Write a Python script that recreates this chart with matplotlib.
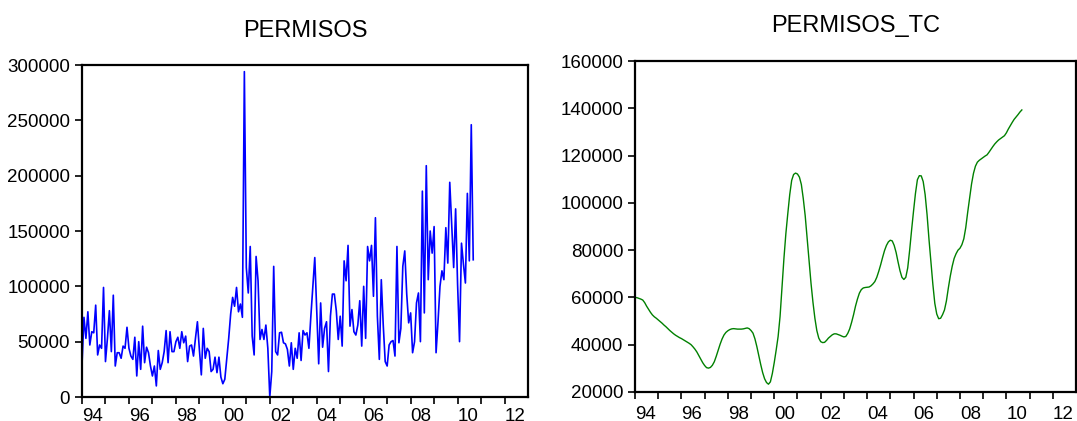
import numpy as np
import matplotlib
matplotlib.use("Agg")
import matplotlib.pyplot as plt

plt.rcParams['font.family'] = ['Liberation Sans', 'DejaVu Sans']

# monthly data, 1994M01 .. 2010M09
start_year = 1994
permisos = [
    29000, 72000, 53000, 77000, 47000, 59000, 58000, 83000, 38000, 47000, 44000, 99000,
    32000, 53000, 78000, 41000, 92000, 28000, 40000, 40000, 35000, 46000, 44000, 63000,
    44000, 37000, 34000, 54000, 19000, 50000, 25000, 64000, 31000, 45000, 40000, 28000,
    19000, 28000, 10000, 42000, 25000, 31000, 41000, 60000, 31000, 59000, 41000, 41000,
    50000, 54000, 44000, 59000, 49000, 55000, 32000, 46000, 47000, 37000, 53000, 68000,
    43000, 20000, 62000, 35000, 44000, 41000, 23000, 25000, 36000, 22000, 36000, 18000,
    12000, 16000, 35000, 53000, 75000, 90000, 82000, 99000, 77000, 84000, 72000, 294000,
    117000, 94000, 136000, 55000, 38000, 127000, 105000, 52000, 61000, 52000, 65000, 44000,
    0, 23000, 118000, 41000, 38000, 58000, 58500, 49000, 48000, 43000, 28000, 49000,
    25000, 44000, 35000, 58000, 33000, 60000, 56000, 58000, 44000, 73000, 99000, 126000,
    78000, 30000, 85000, 45000, 62000, 68000, 23000, 73000, 93000, 93000, 78000, 52000,
    73000, 46000, 123000, 105000, 137000, 64000, 79000, 59000, 56000, 65000, 87000, 46000,
    100000, 53000, 136000, 123000, 137000, 91000, 162000, 73000, 34000, 106000, 65000, 32000,
    28000, 47000, 50000, 51000, 37000, 136000, 49000, 62000, 118000, 132000, 93000, 67000,
    76000, 40000, 50000, 85000, 94000, 50000, 186000, 76000, 209000, 106000, 150000, 130000,
    154000, 40000, 68000, 100000, 114000, 106000, 153000, 121000, 194000, 156000, 117000, 170000,
    102000, 50000, 139000, 120000, 103000, 184000, 123000, 246000, 124000,
]
permisos_tc = [
    60000, 59900, 59600, 59300, 58900, 57800, 56300, 55000, 53700, 52600, 51800, 51200,
    50500, 49800, 49100, 48300, 47600, 46800, 46000, 45300, 44600, 44000, 43500, 43000,
    42600, 42100, 41600, 41100, 40600, 40000, 39100, 38100, 36900, 35400, 33900, 32400,
    31200, 30300, 30100, 30400, 31300, 32800, 35100, 37600, 40200, 42400, 44100, 45200,
    45900, 46400, 46700, 46800, 46700, 46600, 46600, 46600, 46700, 46900, 47100, 46800,
    46000, 44900, 42500, 39200, 35400, 31600, 28200, 25600, 24000, 23300, 24300, 27800,
    32500, 37800, 43500, 52000, 64000, 76500, 87000, 95500, 103500, 109500, 112000, 112600,
    112200, 110900, 107800, 101800, 94500, 85000, 75500, 66000, 58000, 51200, 46000, 42800,
    41300, 40900, 41000, 41800, 42800, 43500, 44200, 44600, 44600, 44300, 44000, 43600,
    43300, 43500, 44800, 46700, 49500, 52700, 56300, 59300, 61800, 63300, 64000, 64200,
    64300, 64400, 64900, 65700, 66700, 68500, 71000, 73800, 76900, 79800, 82000, 83500,
    84200, 83900, 82000, 79000, 75000, 71300, 68500, 67600, 68500, 72500, 80000, 88500,
    96500, 104000, 109800, 111500, 111400, 109000, 103500, 95000, 84500, 75000, 65500, 57500,
    53000, 51000, 51200, 52700, 54700, 58500, 64000, 69000, 73200, 76500, 78500, 80000,
    80800, 82300, 84800, 89500, 96000, 102000, 108000, 112500, 115500, 117200, 118000, 118600,
    119200, 119800, 120300, 121400, 122600, 123800, 124900, 125800, 126600, 127200, 127800, 128400,
    129600, 131200, 132600, 134000, 135300, 136300, 137300, 138400, 139300,
]
year_ticks = list(range(1994, 2013, 2))
year_labels = ['94', '96', '98', '00', '02', '04', '06', '08', '10', '12']
minor_years = list(range(1995, 2013, 2))

t = start_year + np.arange(len(permisos)) / 12.0

fig = plt.figure(figsize=(10.77, 4.21), dpi=100)
ax1 = fig.add_axes([82 / 1077, 1 - 397 / 421, 446 / 1077, 332 / 421])
ax2 = fig.add_axes([635 / 1077, 1 - 392 / 421, 441 / 1077, 331 / 421])


def style(ax, title, pad, xpad):
    ax.set_xlim(1994, 2013)
    ax.set_xticks(year_ticks)
    ax.set_xticklabels(year_labels)
    ax.set_xticks(minor_years, minor=True)
    ax.tick_params(axis='both', which='both', direction='out', length=5, width=1.2,
                   labelsize=13.5, colors='black')
    ax.tick_params(axis='x', which='both', pad=xpad)
    for lab in ax.get_xticklabels():
        lab.set_horizontalalignment('left')
    for sp in ax.spines.values():
        sp.set_linewidth(1.6)
    ax.set_title(title, fontsize=17, pad=pad)


ax1.plot(t, permisos, color='#0000ff', linewidth=1.2)
ax1.set_ylim(0, 300000)
ax1.set_yticks(range(0, 300001, 50000))
style(ax1, 'PERMISOS', 20, 3)

ax2.plot(t, permisos_tc, color='#008000', linewidth=1.0)
ax2.set_ylim(20000, 160000)
ax2.set_yticks(range(20000, 160001, 20000))
style(ax2, 'PERMISOS_TC', 21, 5)

fig.savefig('out.png', dpi=100)
